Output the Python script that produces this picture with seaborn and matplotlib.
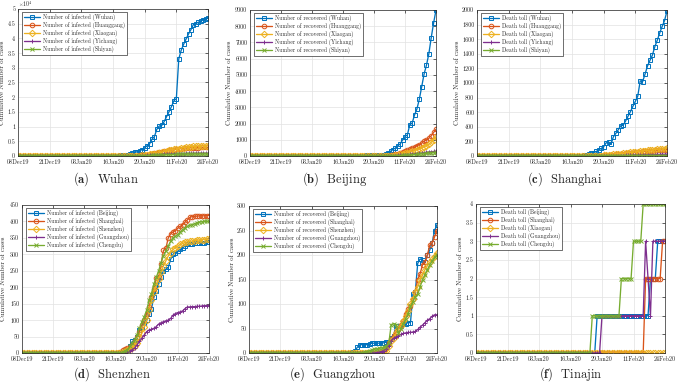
import numpy as np
import pandas as pd
import matplotlib
matplotlib.use('Agg')
import matplotlib.pyplot as plt
import seaborn as sns
from matplotlib.ticker import FuncFormatter, MultipleLocator

# days 08Dec19 .. 24Feb20
days = np.arange(79)
tick_days = [0, 13, 26, 39, 52, 65, 78]
tick_labels = ['08Dec19', '21Dec19', '03Jan20', '16Jan20', '29Jan20', '11Feb20', '24Feb20']

# (a) infected, Hubei cities
a_wuhan = [0] * 34 + [41, 41, 41, 41, 41, 45, 62, 121, 198, 258, 363, 495, 698, 900, 1200,
                      1500, 1800, 2200, 2800, 3500, 4100, 5700, 6600, 9100, 10200, 10400, 11700,
                      13400, 15100, 16800, 18800, 19500, 33000, 36000, 38000, 39800, 41500, 43000,
                      44700, 45000, 45500, 45800, 46300, 46700, 46800]
a_huanggang = [0] * 44 + [5, 10, 15, 30, 60, 120, 200, 300, 400, 500, 570, 730, 900, 1100, 1250,
                          1400, 1650, 1800, 1900, 2050, 2150, 2300, 2400, 2550, 2650, 2750, 2800,
                          2830, 2860, 2880, 2890, 2900, 2905, 2905, 2907]
a_xiaogan = [0] * 44 + [2, 5, 10, 25, 50, 100, 170, 270, 350, 430, 540, 630, 760, 900, 1100, 1300,
                        1500, 1700, 1900, 2100, 2300, 2400, 2550, 2700, 2850, 3000, 3100, 3200,
                        3280, 3350, 3400, 3440, 3480, 3500, 3510]
a_yichang = [0] * 46 + [5, 10, 20, 40, 70, 100, 150, 200, 250, 300, 350, 400, 450, 500, 560, 620,
                        670, 710, 750, 790, 800, 820, 850, 870, 890, 900, 910, 920, 925, 928, 930,
                        931, 931]
a_shiyan = [0] * 46 + [2, 5, 10, 20, 40, 60, 80, 110, 140, 180, 220, 260, 300, 340, 380, 420, 450,
                       480, 510, 540, 560, 580, 600, 610, 620, 630, 640, 650, 655, 660, 665, 670, 672]

# (b) recovered, Hubei cities
b_wuhan = [0] * 44 + [4, 8, 15, 21, 25, 31, 33, 42, 47, 51, 60, 70, 85, 100, 200, 300, 400, 500,
                      640, 740, 1000, 1200, 1300, 1930, 2030, 2530, 2900, 3500, 4270, 5050, 5600,
                      6300, 7300, 8200, 9000]
b_huanggang = [0] * 56 + [5, 10, 30, 50, 80, 110, 150, 200, 250, 300, 350, 420, 480, 550, 620,
                          700, 800, 900, 1000, 1100, 1250, 1450, 1650]
b_xiaogan = [0] * 56 + [2, 5, 10, 20, 30, 50, 70, 100, 130, 160, 200, 240, 280, 330, 380, 430,
                        500, 560, 630, 720, 850, 1000, 1200]
b_yichang = [0] * 58 + [5, 10, 20, 30, 40, 50, 60, 75, 90, 100, 115, 130, 150, 165, 180, 200,
                        220, 240, 260, 280, 300]
b_shiyan = [0] * 58 + [2, 5, 10, 15, 20, 30, 40, 50, 60, 70, 80, 90, 100, 115, 130, 145, 160,
                       175, 190, 210, 230]

# (c) deaths, Hubei cities
c_wuhan = [0] * 34 + [1, 1, 1, 1, 1, 1, 2, 3, 4, 6, 9, 17, 23, 39, 45, 63, 85, 104, 129, 180, 190,
                      160, 265, 310, 360, 414, 420, 480, 545, 608, 681, 748, 820, 1030, 1020, 1123,
                      1233, 1309, 1381, 1497, 1585, 1684, 1774, 1856, 1987]
c_huanggang = [0] * 48 + [1, 2, 3, 5, 7, 9, 12, 15, 18, 21, 25, 28, 32, 36, 40, 43, 47, 50, 55,
                          58, 62, 65, 68, 72, 75, 78, 80, 82, 84, 86, 88]
c_xiaogan = [0] * 48 + [1, 2, 4, 6, 8, 11, 13, 17, 21, 24, 29, 31, 36, 41, 44, 49, 52, 57, 61, 64,
                        69, 72, 77, 80, 85, 88, 93, 96, 99, 102, 105]
c_yichang = [0] * 54 + [1, 1, 2, 3, 3, 5, 6, 7, 8, 9, 11, 12, 12, 13, 15, 16, 17, 18, 18, 20, 21,
                        22, 23, 24, 25]
c_shiyan = [0] * 58 + [1] * 9 + [2] * 12

# (d) infected, other cities
d_beijing = [0] * 42 + [2, 5, 10, 20, 35, 40, 50, 70, 80, 90, 100, 120, 135, 170, 190, 210, 230,
                        250, 255, 260, 285, 300, 305, 310, 315, 320, 325, 330, 330, 332, 333, 334,
                        335, 335, 335, 336, 336]
d_shanghai = [0] * 41 + [3, 8, 12, 15, 18, 25, 35, 50, 65, 85, 100, 120, 140, 170, 195, 228, 230,
                         270, 312, 318, 350, 362, 368, 372, 380, 385, 390, 398, 405, 412, 415, 416,
                         416, 417, 417, 417, 418, 418]
d_shenzhen = [0] * 42 + [2, 5, 8, 12, 15, 20, 30, 45, 60, 80, 100, 130, 160, 185, 205, 225, 245,
                         265, 280, 295, 305, 315, 320, 325, 330, 333, 336, 338, 340, 340, 342, 343,
                         344, 345, 345, 346, 346]
d_guangzhou = [0] * 43 + [1, 2, 5, 10, 15, 25, 35, 45, 55, 65, 70, 72, 75, 80, 88, 92, 95, 98, 100,
                          105, 115, 120, 123, 125, 128, 135, 140, 140, 141, 141, 142, 142, 143, 144,
                          144, 145]
d_chengdu = [0] * 42 + [3, 5, 10, 20, 30, 40, 55, 75, 95, 110, 130, 160, 180, 210, 230, 250, 275,
                        295, 310, 325, 340, 350, 355, 360, 368, 375, 380, 385, 388, 390, 393, 396,
                        398, 399, 400, 400, 400]

# (e) recovered, other cities
e_beijing = [0] * 43 + [2, 5, 12, 17, 17, 17, 17, 18, 20, 20, 20, 20, 20, 21, 22, 22, 30, 35, 55,
                        50, 55, 60, 60, 62, 62, 120, 125, 183, 192, 190, 185, 200, 210, 225, 250, 262]
e_shanghai = [0] * 54 + [1, 2, 5, 10, 20, 28, 35, 42, 50, 58, 66, 80, 90, 95, 110, 125, 150, 162,
                         180, 185, 200, 220, 225, 237, 250]
e_shenzhen = [0] * 49 + [1, 1, 2, 2, 2, 2, 3, 4, 5, 15, 25, 30, 40, 48, 55, 65, 75, 85, 100, 110,
                         125, 135, 150, 160, 170, 178, 185, 192, 198, 205]
e_guangzhou = [0] * 52 + [1, 1, 2, 3, 5, 8, 15, 25, 30, 33, 35, 38, 40, 41, 42, 42, 43, 44, 48, 53,
                          57, 62, 67, 70, 75, 78, 78]
e_chengdu = [0] * 47 + [1, 2, 3, 5, 6, 8, 8, 10, 10, 12, 15, 20, 58, 60, 58, 40, 50, 60, 70, 80, 95,
                        105, 115, 120, 135, 150, 160, 170, 180, 188, 195, 200]

# (f) deaths, other cities
f_beijing = [0] * 50 + [1] * 22 + [2] * 3 + [3] * 4
f_shanghai = [0] * 70 + [2] * 7 + [3] * 2
f_xiaogan = [0] * 79
f_guangzhou = [0] * 52 + [1] * 18 + [3, 2, 1, 3] + [3] * 5
f_chengdu = [0] * 48 + [1] * 12 + [2] * 5 + [3] * 4 + [4] * 10

hubei = ['Wuhan', 'Huanggang', 'Xiaogan', 'Yichang', 'Shiyan']
others = ['Beijing', 'Shanghai', 'Shenzhen', 'Guangzhou', 'Chengdu']
others_f = ['Beijing', 'Shanghai', 'Xiaogan', 'Guangzhou', 'Chengdu']

colors = ['#0072BD', '#D95319', '#EDB120', '#7E2F8E', '#77AC30']
markers = ['s', 'o', 'D', '+', 'x']

sns.set_theme(style='whitegrid')
plt.rcParams['font.family'] = ['cmr10', 'DejaVu Serif']
plt.rcParams['mathtext.fontset'] = 'cm'
plt.rcParams['axes.unicode_minus'] = False

W, H = 677, 382


def draw(ax, series, labels, ymax, ystep, ylab_dx):
    for vals, lab, c, m in zip(series, labels, colors, markers):
        assert len(vals) == len(days), lab
        df = pd.DataFrame({'day': days, 'cases': vals})
        sns.lineplot(data=df, x='day', y='cases', ax=ax, color=c, marker=m,
                     markersize=3.3, mec=c, mfc='none', mew=0.7, lw=0.95,
                     label=lab, estimator=None, errorbar=None)
    ax.set_facecolor('white')
    ax.set_xlim(0, 78)
    ax.set_ylim(0, ymax)
    ax.set_xticks(tick_days, tick_labels)
    ax.yaxis.set_major_locator(MultipleLocator(ystep))
    ax.grid(True, color='#e2e2e2', lw=0.5)
    for s in ax.spines.values():
        s.set_color('#262626')
        s.set_linewidth(0.5)
    ax.tick_params(direction='in', length=2, width=0.5, labelsize=4.4, pad=2,
                   top=True, right=True, colors='#262626')
    ax.set_xlabel('')
    ax.set_ylabel('Cumulative Number of cases', fontsize=4.8)
    bb = ax.get_position()
    wpx, hpx = bb.width * W, bb.height * H
    ax.yaxis.set_label_coords(ylab_dx / wpx, 0.5)
    leg = ax.legend(loc='upper left', bbox_to_anchor=(4 / wpx, 1 - 3 / hpx),
                    borderaxespad=0, fontsize=4.1, frameon=True, fancybox=False,
                    edgecolor='black', framealpha=1, borderpad=0.3, labelspacing=0.2,
                    handlelength=2.9, handletextpad=0.5)
    leg.get_frame().set_linewidth(0.4)


fig = plt.figure(figsize=(W / 100, H / 100), dpi=100)


def add_axes(l, t, r, b):
    return fig.add_axes([l / W, 1 - b / H, (r - l) / W, (b - t) / H])


panels = [
    ((18, 9, 208, 156), [a_wuhan, a_huanggang, a_xiaogan, a_yichang, a_shiyan],
     ['Number of infected (%s)' % c for c in hubei], 50000, 5000, -12.5, (106, 183), 'a', 'Wuhan'),
    ((250, 10, 436, 156), [b_wuhan, b_huanggang, b_xiaogan, b_yichang, b_shiyan],
     ['Number of recovered (%s)' % c for c in hubei], 9000, 1000, -18, (335, 183), 'b', 'Beijing'),
    ((477, 10, 667, 156), [c_wuhan, c_huanggang, c_xiaogan, c_yichang, c_shiyan],
     ['Death toll (%s)' % c for c in hubei], 2000, 200, -17, (565, 183), 'c', 'Shanghai'),
    ((22, 205, 209, 353), [d_beijing, d_shanghai, d_shenzhen, d_guangzhou, d_chengdu],
     ['Number of infected (%s)' % c for c in others], 450, 50, -15.5, (112, 377.5), 'd', 'Shenzhen'),
    ((249, 206, 437, 353), [e_beijing, e_shanghai, e_shenzhen, e_guangzhou, e_chengdu],
     ['Number of recovered (%s)' % c for c in others], 300, 50, -14.5, (333, 377.5), 'e', 'Guangzhou'),
    ((476, 204, 665, 353), [f_beijing, f_shanghai, f_xiaogan, f_guangzhou, f_chengdu],
     ['Death toll (%s)' % c for c in others_f], 4, 0.5, -13, (571, 377.5), 'f', 'Tinajin'),
]

for rect, series, labels, ymax, ystep, ylab_dx, cap_xy, letter, name in panels:
    ax = add_axes(*rect)
    draw(ax, series, labels, ymax, ystep, ylab_dx)
    if letter == 'a':
        ax.yaxis.set_major_formatter(FuncFormatter(lambda v, p: '%g' % (v / 1e4)))
        ax.text(0.0, 1.0, r'$\times10^{4}$', transform=ax.transAxes, fontsize=4.2,
                ha='left', va='bottom', color='#262626')
    else:
        ax.yaxis.set_major_formatter(FuncFormatter(lambda v, p: '%g' % v))
    fig.text(cap_xy[0] / W, 1 - cap_xy[1] / H, r'$\mathbf{(%s)}$  %s' % (letter, name),
             ha='center', va='baseline', fontsize=9)

fig.savefig('out.png', dpi=100, facecolor='white')
